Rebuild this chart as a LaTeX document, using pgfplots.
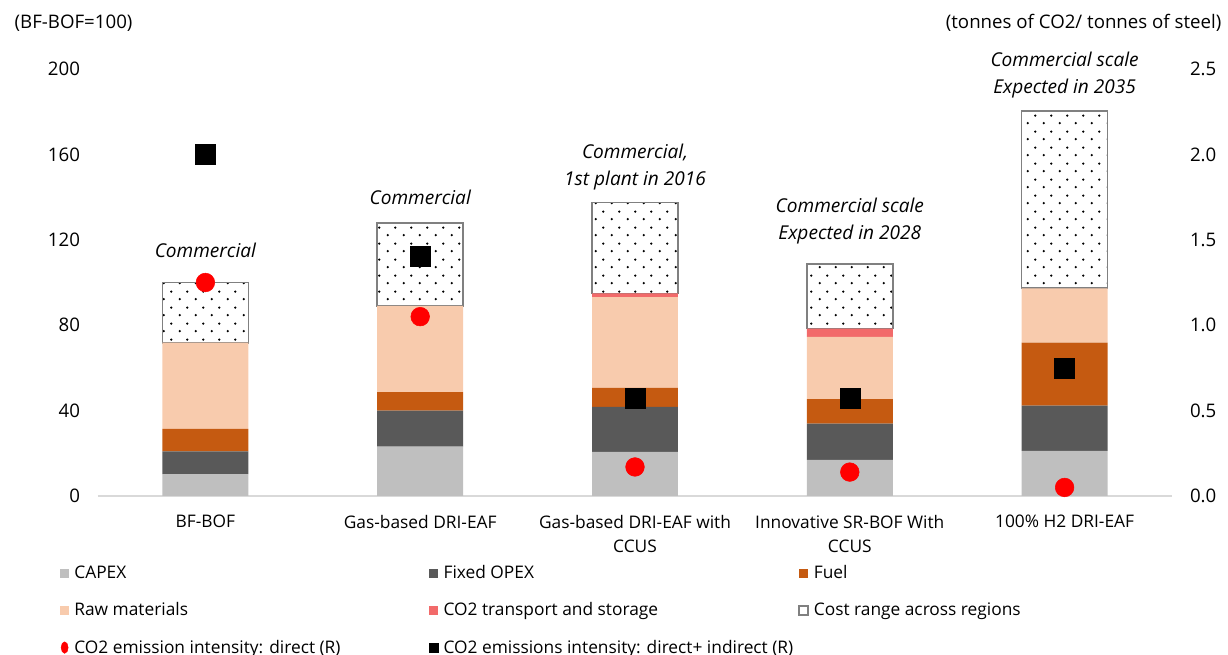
\documentclass[border=0pt]{standalone}
\usepackage{fontspec}
\setmainfont{Open Sans}
\usepackage{pgfplots}
\usepackage{pgfplotstable}
\pgfplotsset{compat=1.18}
\usetikzlibrary{patterns.meta}

\definecolor{capex}{RGB}{191,191,191}
\definecolor{opex}{RGB}{89,89,89}
\definecolor{fuel}{RGB}{197,90,17}
\definecolor{raw}{RGB}{248,203,173}
\definecolor{ccs}{RGB}{242,106,106}
\definecolor{rangeedge}{RGB}{128,128,128}
\definecolor{baseline}{RGB}{217,217,217}

\tikzdeclarepattern{
  name=sparsedots,
  type=uncolored,
  bounding box={(0pt,0pt) and (12pt,12pt)},
  tile size={(12pt,12pt)},
  code={
    \fill (3pt,3pt) circle (1pt);
    \fill (9pt,9pt) circle (1pt);
  }
}

% stacked cost components (BF-BOF=100)
\pgfplotstableread{
x capex opex fuel raw ccs range
0 10.3 10.6 10.5 40.4 0   28.2
1 23.1 16.9 8.7  40.3 0   39.0
2 20.7 21.1 8.8  42.5 1.8 42.5
3 16.9 17.0 11.5 29.1 3.9 30.3
4 21.1 21.2 29.5 25.5 0   83.0
}\costs

% emission intensities (t CO2 / t steel)
\pgfplotstableread{
x direct total
0 1.25 2.00
1 1.05 1.405
2 0.17 0.575
3 0.14 0.57
4 0.05 0.75
}\emis

\def\px{0.75pt}

\pgfplotsset{
  myaxis/.style={
    scale only axis,
    width=805.5pt, height=320.25pt,
    xmin=-0.5, xmax=4.5,
    font=\fontsize{13pt}{18pt}\selectfont,
    major tick length=0pt,
    /pgf/number format/assume math mode=true,
  },
}

\begin{document}
\begin{tikzpicture}
\path[use as bounding box] ({-98*\px},{-159*\px}) rectangle ({1130*\px},{496*\px});

\begin{axis}[
  myaxis,
  clip=false,
  ybar stacked,
  bar width=0.4,
  ymin=0, ymax=200,
  ytick={0,40,...,200},
  axis y line*=left,
  y axis line style={draw=none},
  axis x line*=bottom,
  x axis line style={draw=baseline, line width=1.2pt},
  xtick=data,
  xticklabels={BF-BOF,Gas-based DRI-EAF,{Gas-based DRI-EAF with\\CCUS},{Innovative SR-BOF With\\CCUS},100\% H2 DRI-EAF},
  xticklabel style={align=center, yshift=-11pt},
  yticklabel style={xshift=-10pt, font=\fontsize{14pt}{16pt}\selectfont},
  legend columns=3,
  legend style={
    draw=none, fill=none,
    at={(-0.039,-0.15)}, anchor=north west,
    font=\fontsize{13pt}{15pt}\selectfont,
    /tikz/every even column/.append style={column sep=0pt},
    /tikz/row sep=12.5pt,
  },
  legend cell align=left,
  legend image code/.code={\path[#1] (0pt,-3.4pt) rectangle (6.5pt,3.4pt);},
]
\addplot[fill=capex, draw=none] table[x=x, y=capex] {\costs};
\addlegendentry{\makebox[266pt][l]{\hspace{2pt}CAPEX}}
\addplot[fill=opex, draw=none] table[x=x, y=opex] {\costs};
\addlegendentry{\makebox[266pt][l]{\hspace{2pt}Fixed OPEX}}
\addplot[fill=fuel, draw=none] table[x=x, y=fuel] {\costs};
\addlegendentry{\hspace{2pt}Fuel}
\addplot[fill=raw, draw=none] table[x=x, y=raw] {\costs};
\addlegendentry{\hspace{2pt}Raw materials}
\addplot[fill=ccs, draw=none] table[x=x, y=ccs] {\costs};
\addlegendentry{\hspace{2pt}CO2 transport and storage}
\addplot[fill=white, pattern=sparsedots, pattern color=black, draw=rangeedge, line width=1.2pt] table[x=x, y=range] {\costs};
\addlegendentry{\hspace{2pt}Cost range across regions}
\addlegendimage{legend image code/.code={\fill[red] (3.2pt,0pt) ellipse (2.6pt and 4.3pt);}}
\addlegendentry{\hspace{2pt}CO2 emission intensity: direct (R)}
\addlegendimage{legend image code/.code={\fill[black] (0pt,-3.5pt) rectangle (6.5pt,3.5pt);}}
\addlegendentry{\hspace{2pt}CO2 emissions intensity: direct+ indirect (R)}

\node[align=center, font=\fontsize{14.3pt}{20.25pt}\selectfont\itshape] at (axis cs:0,115.2) {Commercial};
\node[align=center, font=\fontsize{14.3pt}{20.25pt}\selectfont\itshape] at (axis cs:1,140) {Commercial};
\node[align=center, font=\fontsize{14.3pt}{20.25pt}\selectfont\itshape] at (axis cs:2,154.3) {Commercial,\\1st plant in 2016};
\node[align=center, font=\fontsize{14.3pt}{20.25pt}\selectfont\itshape] at (axis cs:3,128.6) {Commercial scale\\Expected in 2028};
\node[align=center, font=\fontsize{14.3pt}{20.25pt}\selectfont\itshape] at (axis cs:4,197) {Commercial scale\\Expected in 2035};
\end{axis}

\begin{axis}[
  myaxis,
  ymin=0, ymax=2.5,
  ytick={0,0.5,...,2.5},
  axis y line*=right,
  y axis line style={draw=none},
  axis x line=none,
  yticklabel style={xshift=10pt, font=\fontsize{14pt}{16pt}\selectfont, /pgf/number format/.cd, fixed, fixed zerofill, precision=1},
]
\addplot[only marks, mark=*, mark size=7pt, color=red] table[x=x, y=direct] {\emis};
\addplot[only marks, mark=square*, mark size=7.5pt, color=black] table[x=x, y=total] {\emis};
\end{axis}

\node[anchor=west, font=\fontsize{14pt}{16pt}\selectfont] at ({-88*\px},{473*\px}) {(BF-BOF=100)};
\node[anchor=east, font=\fontsize{14pt}{16pt}\selectfont] at ({1128*\px},{473*\px}) {(tonnes of CO2/ tonnes of steel)};
\end{tikzpicture}
\end{document}
